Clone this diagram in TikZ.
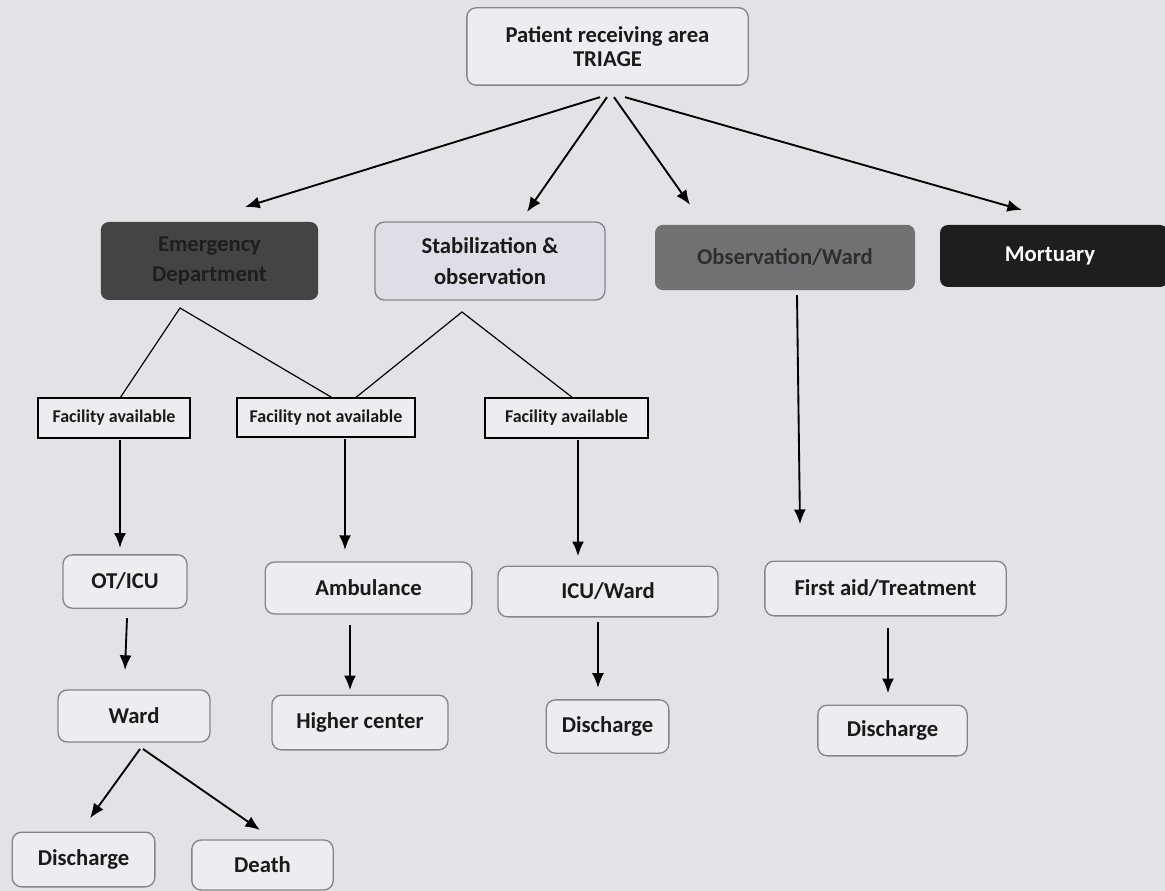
\documentclass[tikz,border=0pt]{standalone}
\usepackage{fontspec}
\setmainfont{Carlito}
\usetikzlibrary{arrows.meta,calc}
\definecolor{bg}{HTML}{E3E3E7}
\definecolor{boxfill}{HTML}{EDEDF1}
\definecolor{boxline}{HTML}{86868A}
\definecolor{txt}{HTML}{1A1A1A}
\definecolor{edfill}{HTML}{444444}
\definecolor{edtxt}{HTML}{1E1E1E}
\definecolor{obsfill}{HTML}{727274}
\definecolor{obstxt}{HTML}{2E2E2E}
\definecolor{mortfill}{HTML}{1E1E1E}
\definecolor{stabfill}{HTML}{DEDEE6}
\begin{document}
\begin{tikzpicture}[x=0.75pt,y=-0.75pt,
  every node/.style={inner sep=0pt,outer sep=0pt,align=center,text=txt,
    font=\bfseries\fontsize{17}{18}\selectfont},
  softbox/.style={draw=boxline,line width=1pt,fill=boxfill,rounded corners=7pt},
  facbox/.style={draw=black,line width=1.5pt,fill=boxfill,
    font=\bfseries\fontsize{13.5}{15}\selectfont},
  darkbox/.style={rounded corners=6pt,draw=none},
  arr/.style={draw=black,line width=1.4pt,-{Latex[length=11pt,width=9pt]}},
  thinline/.style={draw=black,line width=0.9pt}]
\fill[bg] (0,0) rectangle (1165,891);
\useasboundingbox (0,0) rectangle (1165,891);

% top
\node[softbox,minimum width=211pt,minimum height=58pt,font=\bfseries\fontsize{17}{18.5}\selectfont] (triage) at (607.5,46.5) {Patient receiving area\\TRIAGE};

% second row
\node[darkbox,fill=edfill,minimum width=163pt,minimum height=58.5pt,text=edtxt,font=\bfseries\fontsize{17}{22.5}\selectfont] (ed) at (209.5,261) {Emergency\\Department};
\node[softbox,fill=stabfill,minimum width=172.5pt,minimum height=58.5pt,font=\bfseries\fontsize{17}{23}\selectfont] (stab) at (490,261) {Stabilization \&\\observation};
\node[darkbox,fill=obsfill,minimum width=195pt,minimum height=49pt,text=obstxt] (obs) at (785,257.5) {Observation/Ward};
\node[darkbox,fill=mortfill,minimum width=171pt,minimum height=46.5pt,text=white] (mort) at (1054,256) {\hspace*{-6pt}Mortuary};

% facility row
\node[facbox,minimum width=114pt,minimum height=30pt] (fa1) at (114,418) {Facility available};
\node[facbox,minimum width=133.5pt,minimum height=29pt] (fna) at (326,417.5) {Facility not available};
\node[facbox,minimum width=122pt,minimum height=30pt] (fa2) at (566.5,418) {Facility available};

% fourth row
\node[softbox,minimum width=93pt,minimum height=40pt] (otic) at (125,581.5) {OT/ICU};
\node[softbox,minimum width=155pt,minimum height=39pt] (amb) at (368.5,588) {Ambulance};
\node[softbox,minimum width=165pt,minimum height=38pt] (icuw) at (608,591.5) {ICU/Ward};
\node[softbox,minimum width=181pt,minimum height=41pt] (fat) at (885.5,588.5) {First aid/Treatment};

% fifth row
\node[softbox,minimum width=114pt,minimum height=39pt] (ward) at (134,716) {Ward};
\node[softbox,minimum width=132pt,minimum height=41pt] (hc) at (360,722.5) {Higher center};
\node[softbox,minimum width=92pt,minimum height=40pt] (dis1) at (607.5,726.5) {Discharge};
\node[softbox,minimum width=112pt,minimum height=38pt] (dis2) at (892.5,730.5) {Discharge};

% last row
\node[softbox,minimum width=107pt,minimum height=41pt] (disl) at (83.5,859.5) {Discharge};
\node[softbox,minimum width=106pt,minimum height=37.5pt] (death) at (262.5,865) {Death};

% arrows from triage
\draw[arr] ($(triage.south)+(-7.5,12)$) -- ($(ed.north)+(35.5,-15)$);
\draw[arr] ($(triage.south)+(-0.5,12)$) -- ($(stab.north)+(37,-10)$);
\draw[arr] ($(triage.south)+(6.5,12)$) -- ($(obs.north)+(-95,-20)$);
\draw[arr] ($(triage.south)+(17.5,12)$) -- ($(mort.north)+(-32,-15)$);

% branching lines
\coordinate (edb) at ($(ed.south)+(-29.5,8)$);
\coordinate (stb) at ($(stab.south)+(-28,12)$);
\draw[thinline] ($(fa1.north)+(6,0)$) -- (edb) -- ($(fna.north)+(7,0)$);
\draw[thinline] ($(fna.north)+(29,0)$) -- (stb) -- ($(fa2.north)+(6.5,0)$);

% vertical arrows
\draw[arr] ($(fa1.south)+(6,2)$) -- ($(otic.north)+(-5,-7)$);
\draw[arr] ($(fna.south)+(19,2)$) -- ($(amb.north)+(-23.5,-12)$);
\draw[arr] ($(fa2.south)+(11.5,2)$) -- ($(icuw.north)+(-30,-10)$);
\draw[arr] ($(obs.south)+(12,5)$) -- ($(fat.north)+(-85.5,-37)$);
\draw[arr] ($(otic.south)+(2,10)$) -- ($(ward.north)+(-9,-20)$);
\draw[arr] ($(amb.south)+(-18.5,11)$) -- ($(hc.north)+(-10,-5)$);
\draw[arr] ($(icuw.south)+(-10,5)$) -- ($(dis1.north)+(-9.5,-12)$);
\draw[arr] ($(fat.south)+(2.5,12)$) -- ($(dis2.north)+(-4.5,-12)$);
\draw[arr] ($(ward.south)+(6,7)$) -- ($(disl.north)+(6.5,-14)$);
\draw[arr] ($(ward.south)+(9,7)$) -- ($(death.north)+(-2.5,-10)$);
\end{tikzpicture}
\end{document}
